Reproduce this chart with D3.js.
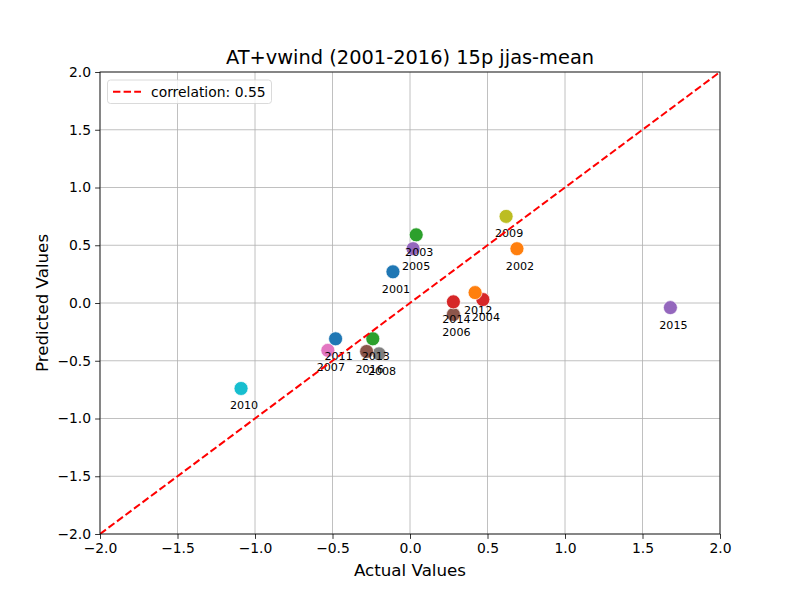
<!DOCTYPE html>
<html>
<head>
<meta charset="utf-8">
<script src="https://cdn.jsdelivr.net/npm/d3@7"></script>
<style>
  body { margin: 0; background: #fff; }
  text { font-family: "DejaVu Sans", sans-serif; fill: #000; }
</style>
</head>
<body>
<script>
// scatter of actual vs predicted, one point per year, with 1:1 dashed line

var years = [2001, 2002, 2003, 2004, 2005, 2006, 2007, 2008,
             2009, 2010, 2011, 2012, 2013, 2014, 2015, 2016];
var actual = [-0.11, 0.69, 0.04, 0.47, 0.02, 0.28, -0.53, -0.20,
              0.62, -1.09, -0.48, 0.42, -0.24, 0.28, 1.68, -0.28];
var predicted = [0.27, 0.47, 0.59, 0.03, 0.47, -0.10, -0.41, -0.44,
                 0.75, -0.74, -0.31, 0.09, -0.31, 0.01, -0.04, -0.42];
var ticks = [-2.0, -1.5, -1.0, -0.5, 0.0, 0.5, 1.0, 1.5, 2.0];
var diag = [-2, 2];
var corrLabel = "correlation: 0.55";
var title = "AT+vwind (2001-2016) 15p jjas-mean";

var W = 800, H = 600;
// plot box (window.top is taken, so p-prefixed names)
var pLeft = 100, pRight = 720, pTop = 72, pBottom = 534;

var svg = d3.select("body").append("svg")
    .attr("width", W)
    .attr("height", H);

var x = d3.scaleLinear().domain([-2, 2]).range([pLeft, pRight]);
var y = d3.scaleLinear().domain([-2, 2]).range([pBottom, pTop]);
var color = d3.scaleOrdinal(d3.schemeCategory10).domain(d3.range(10));

// grid
svg.append("g").selectAll("line")
    .data(ticks).enter().append("line")
    .attr("x1", d => x(d)).attr("x2", d => x(d))
    .attr("y1", pTop).attr("y2", pBottom)
    .attr("stroke", "#b0b0b0").attr("stroke-width", 0.8);
svg.append("g").selectAll("line")
    .data(ticks).enter().append("line")
    .attr("y1", d => y(d)).attr("y2", d => y(d))
    .attr("x1", pLeft).attr("x2", pRight)
    .attr("stroke", "#b0b0b0").attr("stroke-width", 0.8);

svg.append("clipPath").attr("id", "plot")
  .append("rect")
    .attr("x", pLeft).attr("y", pTop)
    .attr("width", pRight - pLeft).attr("height", pBottom - pTop);

// points
var pts = d3.range(years.length);
svg.append("g").selectAll("circle")
    .data(pts).enter().append("circle")
    .attr("cx", i => x(actual[i]))
    .attr("cy", i => y(predicted[i]))
    .attr("r", 7)
    .attr("fill", i => color(i % 10))
    .attr("stroke", "#fff")
    .attr("stroke-width", 0.7);

// year labels
svg.append("g").selectAll("text")
    .data(pts).enter().append("text")
    .attr("x", i => x(actual[i]) + 3)
    .attr("y", i => y(predicted[i]) + 21)
    .attr("text-anchor", "middle")
    .style("font-size", "11.1px")
    .text(i => years[i]);

// 1:1 line
svg.append("line")
    .attr("clip-path", "url(#plot)")
    .attr("x1", x(diag[0])).attr("y1", y(diag[0]))
    .attr("x2", x(diag[1])).attr("y2", y(diag[1]))
    .attr("stroke", "red").attr("stroke-width", 2)
    .attr("stroke-dasharray", "7.4,3.2");

// axes
var xAxis = d3.axisBottom(x).tickValues(ticks).tickFormat(d3.format(".1f"))
    .tickSize(4.9).tickPadding(4);
var yAxis = d3.axisLeft(y).tickValues(ticks).tickFormat(d3.format(".1f"))
    .tickSize(4.9).tickPadding(4);

var gx = svg.append("g").attr("transform", "translate(0," + pBottom + ")").call(xAxis);
var gy = svg.append("g").attr("transform", "translate(" + pLeft + ",0)").call(yAxis);
[gx, gy].forEach(function (g) {
  g.select(".domain").remove();
  g.selectAll(".tick line").attr("stroke", "#000").attr("stroke-width", 0.8);
  g.selectAll(".tick text")
    .style("font-family", "DejaVu Sans, sans-serif")
    .style("font-size", "13.9px")
    .attr("fill", "#000");
});

svg.append("rect")
    .attr("x", pLeft).attr("y", pTop)
    .attr("width", pRight - pLeft).attr("height", pBottom - pTop)
    .attr("fill", "none").attr("stroke", "#000").attr("stroke-width", 0.8);

// legend
var lg = svg.append("g");
lg.append("rect")
    .attr("x", 107.5).attr("y", 80)
    .attr("width", 164).attr("height", 23.5)
    .attr("rx", 3)
    .attr("fill", "#fff").attr("fill-opacity", 0.8)
    .attr("stroke", "#d0d0d0").attr("stroke-width", 0.8);
lg.append("line")
    .attr("x1", 113).attr("x2", 141)
    .attr("y1", 91.7).attr("y2", 91.7)
    .attr("stroke", "red").attr("stroke-width", 2)
    .attr("stroke-dasharray", "7.4,3.2");
lg.append("text")
    .attr("x", 151).attr("y", 96.5)
    .style("font-size", "13.9px")
    .text(corrLabel);

// titles
svg.append("text")
    .attr("x", (pLeft + pRight) / 2).attr("y", 64)
    .attr("text-anchor", "middle")
    .style("font-size", "19.4px")
    .text(title);
svg.append("text")
    .attr("x", (pLeft + pRight) / 2).attr("y", 576)
    .attr("text-anchor", "middle")
    .style("font-size", "16.7px")
    .text("Actual Values");
svg.append("text")
    .attr("transform", "translate(48," + (pTop + pBottom) / 2 + ") rotate(-90)")
    .attr("text-anchor", "middle")
    .style("font-size", "16.7px")
    .text("Predicted Values");
</script>
</body>
</html>
